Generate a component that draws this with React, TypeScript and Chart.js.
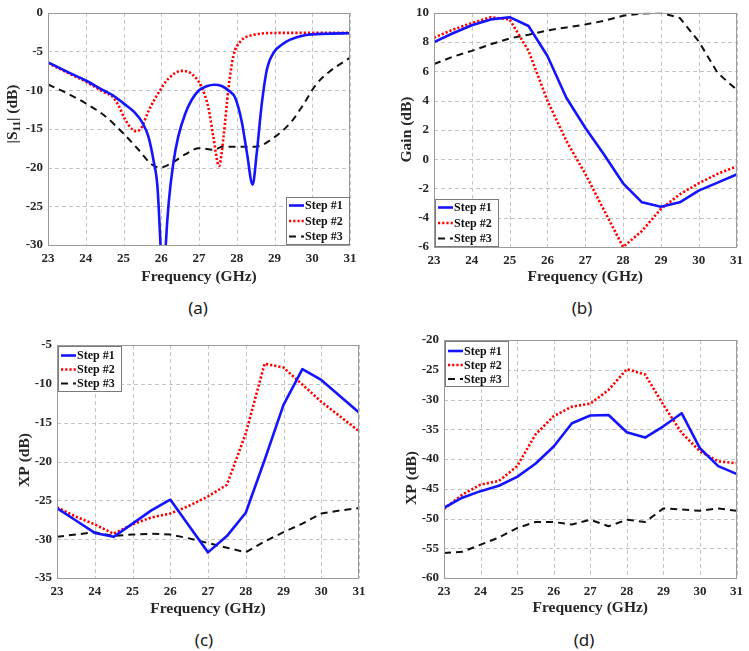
import React, { useEffect, useRef } from "react";
import { Chart, registerables } from "chart.js";

Chart.register(...registerables);

// ---------- shared ----------
const FREQ_TICKS = [23, 24, 25, 26, 27, 28, 29, 30, 31];
const FREQ = [23, 23.5, 24, 24.5, 25, 25.5, 26, 26.5, 27, 27.5, 28, 28.5, 29, 29.5, 30, 30.5, 31];
const SERIES_NAMES = ["Step #1", "Step #2", "Step #3"];
const X_TITLE = "Frequency (GHz)";

// ---------- (a) |S11| ----------
const s11Step1Freq = [23, 23.5, 24, 24.5, 24.7, 25, 25.3, 25.5, 25.66, 25.8, 25.9, 25.98, 26.05, 26.12, 26.2, 26.32, 26.45, 26.63, 26.8, 27, 27.2, 27.4, 27.6, 27.8, 27.96, 28.13, 28.27, 28.42, 28.53, 28.66, 28.8, 29, 29.2, 29.4, 29.8, 30.4, 31];
const s11Step1 = [-6.4, -7.6, -8.75, -10.1, -10.6, -11.7, -12.9, -14.2, -16, -19.2, -22.5, -30, -38, -30, -24.4, -19.4, -16, -13.1, -11.3, -10, -9.5, -9.3, -9.45, -10.1, -11, -14, -18.1, -22.2, -18.1, -11.9, -7.3, -5, -4.1, -3.5, -2.9, -2.7, -2.65];
const s11Step2Freq = [23, 23.5, 24, 24.5, 24.7, 24.86, 25.04, 25.24, 25.35, 25.48, 25.66, 25.92, 26.19, 26.54, 26.81, 27.07, 27.25, 27.38, 27.53, 27.65, 27.78, 27.91, 28.09, 28.4, 29.1, 31];
const s11Step2 = [-6.5, -7.7, -8.9, -10.3, -10.8, -11.9, -13.75, -15.1, -15.3, -14.8, -12.7, -10.4, -8.5, -7.5, -7.9, -9.6, -12.3, -16, -19.8, -16, -9.8, -5.6, -3.75, -2.9, -2.6, -2.6];
const s11Step3Freq = [23, 23.5, 24, 24.5, 25, 25.4, 25.75, 25.97, 26.28, 26.63, 27, 27.42, 27.6, 28, 28.49, 29.02, 29.46, 29.81, 30.08, 30.43, 31];
const s11Step3 = [-9.25, -10.4, -11.7, -13.3, -15.6, -17.7, -19.6, -20, -19.4, -18.3, -17.5, -17.7, -17.3, -17.3, -17.3, -16, -14, -11.5, -9.4, -7.7, -5.8];

// ---------- (b) Gain ----------
const gainStep1 = [8.0, 8.6, 9.15, 9.55, 9.7, 9.1, 7.05, 4.2, 2.15, 0.3, -1.65, -2.95, -3.25, -2.95, -2.15, -1.6, -1.05];
const gainStep2 = [8.3, 8.85, 9.3, 9.7, 9.55, 7.4, 4.0, 1.25, -1.0, -3.5, -6.0, -4.9, -3.4, -2.4, -1.65, -1.0, -0.5];
const gainStep3 = [6.5, 7.0, 7.4, 7.85, 8.25, 8.5, 8.8, 9.0, 9.2, 9.45, 9.8, 9.95, 10.0, 9.65, 8.05, 5.9, 4.75];

// ---------- (c) XP ----------
const xpcStep1 = [-26.0, -27.6, -29.2, -29.7, -28.0, -26.3, -24.9, -28.3, -31.7, -29.6, -26.6, -19.8, -12.7, -8.1, -9.5, -11.6, -13.7];
const xpcStep2 = [-25.9, -27.1, -28.1, -29.3, -28.1, -27.2, -26.7, -25.7, -24.5, -23.0, -16.4, -7.4, -7.9, -10.1, -12.3, -14.2, -16.1];
const xpcStep3 = [-29.7, -29.4, -29.1, -29.6, -29.4, -29.3, -29.4, -29.9, -30.5, -31.1, -31.7, -30.3, -29.1, -28.0, -26.7, -26.3, -26.0];

// ---------- (d) XP ----------
const xpdStep1 = [-48.2, -46.5, -45.4, -44.5, -43.0, -40.8, -37.9, -34.0, -32.7, -32.6, -35.5, -36.4, -34.5, -32.3, -38.2, -41.2, -42.5];
const xpdStep2 = [-48.4, -46.0, -44.3, -43.7, -41.2, -35.9, -32.8, -31.2, -30.7, -28.4, -24.9, -25.8, -30.9, -35.6, -38.7, -40.4, -40.7];
const xpdStep3 = [-55.8, -55.6, -54.4, -53.2, -51.6, -50.6, -50.6, -51.0, -50.2, -51.3, -50.2, -50.6, -48.3, -48.5, -48.7, -48.3, -48.7];

// ---------- styling ----------
const SERIF = '"Liberation Serif", "Times New Roman", serif';
const TICK_SIZE = 13;
const TITLE_SIZE = 15.5;
const TITLE_LH = TITLE_SIZE * 1.2;
const TEXT_COLOR = "#262626";
const GRID_COLOR = "#c4c4c4";
const FRAME_COLOR = "#9a9a9a";

const STYLES = [
  { color: "rgb(20,20,255)", width: 2.6, dash: [] as number[] },
  { color: "rgb(255,0,0)", width: 2.6, dash: [2.2, 2] },
  { color: "#111111", width: 2, dash: [7, 5] },
];

type Seg = { t: string; sub?: boolean };
type Spec = {
  key: string;
  label: string;
  left: number; top: number; width: number; height: number;
  plot: { l: number; t: number; r: number; b: number };
  yTitleX: number; yTitleCY: number; xTitleY: number;
  yTitle: Seg[];
  yMin: number; yMax: number; yStep: number;
  series: { x: number[]; y: number[] }[];
  smooth: boolean;
  legend: { corner: "tl" | "bl" | "br"; w: number; h: number; first: number; row: number };
  labelX: number; labelY: number;
};

const SPECS: Spec[] = [
  {
    key: "a", label: "(a)",
    left: 0, top: 0, width: 375, height: 292,
    plot: { l: 48, t: 5, r: 350, b: 245 },
    yTitleX: 13, yTitleCY: 114, xTitleY: 277,
    yTitle: [{ t: "|S" }, { t: "11", sub: true }, { t: "| (dB)" }],
    yMin: -30, yMax: 0, yStep: 5,
    series: [
      { x: s11Step1Freq, y: s11Step1 },
      { x: s11Step2Freq, y: s11Step2 },
      { x: s11Step3Freq, y: s11Step3 },
    ],
    smooth: true,
    legend: { corner: "br", w: 64, h: 48, first: 8.5, row: 15.5 },
    labelX: 198, labelY: 308,
  },
  {
    key: "b", label: "(b)",
    left: 375, top: 0, width: 374, height: 292,
    plot: { l: 434, t: 12, r: 737, b: 247 },
    yTitleX: 407, yTitleCY: 129.5, xTitleY: 277,
    yTitle: [{ t: "Gain (dB)" }],
    yMin: -6, yMax: 10, yStep: 2,
    series: [
      { x: FREQ, y: gainStep1 },
      { x: FREQ, y: gainStep2 },
      { x: FREQ, y: gainStep3 },
    ],
    smooth: false,
    legend: { corner: "bl", w: 64, h: 48, first: 8.5, row: 15.5 },
    labelX: 582, labelY: 308,
  },
  {
    key: "c", label: "(c)",
    left: 0, top: 320, width: 375, height: 300,
    plot: { l: 57, t: 345, r: 359, b: 578 },
    yTitleX: 25, yTitleCY: 460, xTitleY: 609,
    yTitle: [{ t: "XP (dB)" }],
    yMin: -35, yMax: -5, yStep: 5,
    series: [
      { x: FREQ, y: xpcStep1 },
      { x: FREQ, y: xpcStep2 },
      { x: FREQ, y: xpcStep3 },
    ],
    smooth: false,
    legend: { corner: "tl", w: 64, h: 46, first: 9.5, row: 14 },
    labelX: 204, labelY: 640,
  },
  {
    key: "d", label: "(d)",
    left: 375, top: 320, width: 374, height: 300,
    plot: { l: 444, t: 340, r: 742, b: 578 },
    yTitleX: 412, yTitleCY: 478, xTitleY: 608,
    yTitle: [{ t: "XP (dB)" }],
    yMin: -60, yMax: -20, yStep: 5,
    series: [
      { x: FREQ, y: xpdStep1 },
      { x: FREQ, y: xpdStep2 },
      { x: FREQ, y: xpdStep3 },
    ],
    smooth: false,
    legend: { corner: "tl", w: 64, h: 46, first: 10, row: 14 },
    labelX: 584, labelY: 640,
  },
];

function makeDecor(spec: Spec) {
  return {
    id: "decor" + spec.key,
    beforeDatasetsDraw(chart: any) {
      const ctx: CanvasRenderingContext2D = chart.ctx;
      const a = chart.chartArea;
      const xs = chart.scales.x;
      const ys = chart.scales.y;
      ctx.save();
      ctx.strokeStyle = GRID_COLOR;
      ctx.lineWidth = 1;
      ctx.setLineDash([4, 3]);
      xs.ticks.forEach((t: any) => {
        const px = Math.round(xs.getPixelForValue(t.value)) + 0.5;
        ctx.beginPath();
        ctx.moveTo(px, a.top);
        ctx.lineTo(px, a.bottom);
        ctx.stroke();
      });
      ys.ticks.forEach((t: any) => {
        const py = Math.round(ys.getPixelForValue(t.value)) + 0.5;
        ctx.beginPath();
        ctx.moveTo(a.left, py);
        ctx.lineTo(a.right, py);
        ctx.stroke();
      });
      ctx.restore();
    },
    afterDatasetsDraw(chart: any) {
      const ctx: CanvasRenderingContext2D = chart.ctx;
      const a = chart.chartArea;
      ctx.save();
      // frame
      ctx.strokeStyle = FRAME_COLOR;
      ctx.lineWidth = 1;
      ctx.setLineDash([]);
      ctx.strokeRect(Math.round(a.left) + 0.5, Math.round(a.top) + 0.5, Math.round(a.right - a.left) - 1, Math.round(a.bottom - a.top));

      // legend
      const L = spec.legend;
      const x0 = Math.round(L.corner.includes("l") ? a.left + 1 : a.right - L.w);
      const y0 = Math.round(L.corner[0] === "t" ? a.top + 1 : a.bottom - L.h);
      ctx.fillStyle = "#ffffff";
      ctx.fillRect(x0, y0, L.w, L.h);
      ctx.strokeStyle = "#7a7a7a";
      ctx.strokeRect(x0 + 0.5, y0 + 0.5, L.w - 1, L.h - 1);
      ctx.font = `bold 12px ${SERIF}`;
      ctx.textBaseline = "middle";
      ctx.textAlign = "left";
      SERIES_NAMES.forEach((name, i) => {
        const cy = y0 + L.first + i * L.row;
        const st = STYLES[i];
        ctx.beginPath();
        ctx.strokeStyle = st.color;
        ctx.lineWidth = st.width;
        ctx.setLineDash(st.dash);
        ctx.moveTo(x0 + 3, cy);
        ctx.lineTo(x0 + 18, cy);
        ctx.stroke();
        ctx.setLineDash([]);
        ctx.fillStyle = "#111111";
        ctx.fillText(name, x0 + 19, cy + 0.5);
      });

      // y title (rotated, supports subscript)
      const mainFont = `bold ${TITLE_SIZE}px ${SERIF}`;
      const subFont = `bold 11px ${SERIF}`;
      let total = 0;
      const widths = spec.yTitle.map((s) => {
        ctx.font = s.sub ? subFont : mainFont;
        const w = ctx.measureText(s.t).width;
        total += w;
        return w;
      });
      ctx.translate(spec.yTitleX - spec.left, spec.yTitleCY - spec.top);
      ctx.rotate(-Math.PI / 2);
      ctx.fillStyle = TEXT_COLOR;
      ctx.textBaseline = "middle";
      let cx = -total / 2;
      spec.yTitle.forEach((s, i) => {
        ctx.font = s.sub ? subFont : mainFont;
        ctx.fillText(s.t, cx, s.sub ? 4 : 0);
        cx += widths[i];
      });
      ctx.restore();
    },
  };
}

function buildConfig(spec: Spec): any {
  const yAxisW = spec.plot.l - spec.left;
  const xAxisBottom = spec.xTitleY + TITLE_LH / 2;
  const xAxisH = xAxisBottom - spec.plot.b;
  const tickFont = { family: SERIF, size: TICK_SIZE, weight: "bold" as const };
  return {
    type: "line",
    data: {
      datasets: spec.series.map((s, i) => ({
        label: SERIES_NAMES[i],
        data: s.x.map((x, j) => ({ x, y: s.y[j] })),
        borderColor: STYLES[i].color,
        backgroundColor: STYLES[i].color,
        borderWidth: STYLES[i].width,
        borderDash: STYLES[i].dash,
        borderCapStyle: "butt",
        borderJoinStyle: "round",
        pointRadius: 0,
        fill: false,
        tension: 0,
        cubicInterpolationMode: spec.smooth ? "monotone" : "default",
      })),
    },
    options: {
      responsive: false,
      maintainAspectRatio: false,
      animation: false,
      devicePixelRatio: 1,
      events: [],
      layout: {
        autoPadding: false,
        padding: {
          left: 0,
          top: spec.plot.t - spec.top,
          right: spec.left + spec.width - spec.plot.r,
          bottom: spec.top + spec.height - xAxisBottom,
        },
      },
      plugins: {
        legend: { display: false },
        tooltip: { enabled: false },
        title: { display: false },
      },
      scales: {
        x: {
          type: "linear",
          min: 23,
          max: 31,
          afterBuildTicks: (s: any) => {
            s.ticks = FREQ_TICKS.map((v) => ({ value: v }));
          },
          afterFit: (s: any) => {
            s.height = xAxisH;
          },
          grid: { display: false, drawTicks: false },
          border: { display: false },
          ticks: {
            font: tickFont,
            color: TEXT_COLOR,
            padding: 6,
            maxRotation: 0,
            autoSkip: false,
            callback: (v: any) => String(v),
          },
          title: {
            display: true,
            text: X_TITLE,
            color: TEXT_COLOR,
            font: { family: SERIF, size: TITLE_SIZE, weight: "bold" },
            padding: { top: 0, bottom: 0 },
          },
        },
        y: {
          type: "linear",
          min: spec.yMin,
          max: spec.yMax,
          ticks: {
            stepSize: spec.yStep,
            font: tickFont,
            color: TEXT_COLOR,
            padding: 5,
            autoSkip: false,
            callback: (v: any) => String(v),
          },
          afterFit: (s: any) => {
            s.width = yAxisW;
          },
          grid: { display: false, drawTicks: false },
          border: { display: false },
          title: { display: false },
        },
      },
    },
    plugins: [makeDecor(spec)],
  };
}

function Panel({ spec }: { spec: Spec }) {
  const ref = useRef<HTMLCanvasElement | null>(null);
  useEffect(() => {
    if (!ref.current) return;
    const chart = new Chart(ref.current, buildConfig(spec));
    return () => chart.destroy();
  }, [spec]);
  return (
    <>
      <canvas
        ref={ref}
        width={spec.width}
        height={spec.height}
        style={{ position: "absolute", left: spec.left, top: spec.top, width: spec.width, height: spec.height }}
      />
      <div
        style={{
          position: "absolute",
          left: spec.labelX - 30,
          top: spec.labelY - 12,
          width: 60,
          height: 24,
          lineHeight: "24px",
          textAlign: "center",
          fontFamily: '"Noto Sans", "Open Sans", sans-serif',
          fontSize: 17,
          color: "#1a1a1a",
        }}
      >
        {spec.label}
      </div>
    </>
  );
}

export default function App() {
  return (
    <div style={{ position: "absolute", left: 0, top: 0, width: 749, height: 651, background: "#ffffff", overflow: "hidden" }}>
      {SPECS.map((s) => (
        <Panel key={s.key} spec={s} />
      ))}
    </div>
  );
}
